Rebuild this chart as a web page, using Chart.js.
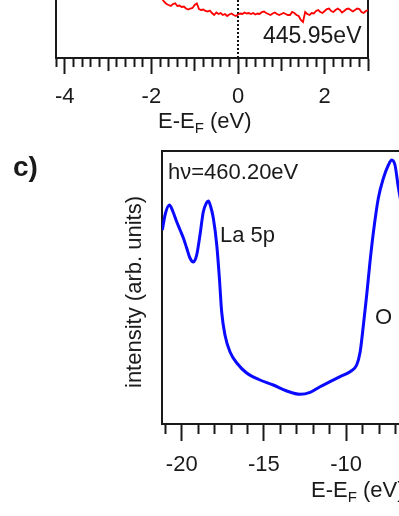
<!DOCTYPE html>
<html>
<head>
<meta charset="utf-8">
<script src="https://cdn.jsdelivr.net/npm/chart.js@4"></script>
<style>
  html, body { margin: 0; padding: 0; background: #fff; overflow: hidden; width: 399px; height: 516px; }
  body { position: relative; font-family: "Liberation Sans", Arial, sans-serif; color: #1a1a1a; }
  .txt { position: absolute; line-height: 1; white-space: nowrap; font-size: 22px; }
  .txt sub { font-size: 15px; vertical-align: -5px; line-height: 0; }
  #topChart { position: absolute; left: 0; top: 0; }
  #botChart { position: absolute; left: 0; top: 140px; }
</style>
</head>
<body>
<canvas id="topChart" width="399" height="110"></canvas>
<canvas id="botChart" width="420" height="344"></canvas>

<div class="txt" style="left:263px; top:24px; font-size:23px;">445.95eV</div>
<div class="txt" style="left:158px; top:110px;">E-E<sub>F</sub> (eV)</div>

<div class="txt" style="left:13px; top:153px; font-size:28px; font-weight:bold;">c)</div>
<div class="txt" style="left:134px; top:292px; transform: translate(-50%, -50%) rotate(-90deg);">intensity (arb. units)</div>
<div class="txt" style="left:168px; top:161px;">hν=460.20eV</div>
<div class="txt" style="left:220px; top:224px;">La 5p</div>
<div class="txt" style="left:375px; top:306px;">O</div>
<div class="txt" style="left:311px; top:479px;">E-E<sub>F</sub> (eV)</div>

<script>
// ---------------- DATA ----------------
// upper panel (hv = 445.95 eV), only its lower part is visible
const redEnergy = [
  -1.80, -1.75, -1.70, -1.65, -1.60, -1.55, -1.50, -1.45, -1.40, -1.35,
  -1.30, -1.25, -1.20, -1.15, -1.10, -1.05, -1.00, -0.95, -0.90, -0.85,
  -0.80, -0.75, -0.70, -0.65, -0.60, -0.55, -0.50, -0.45, -0.40, -0.35,
  -0.30, -0.25, -0.20, -0.15, -0.10, -0.05, 0.00, 0.05, 0.10, 0.15,
  0.20, 0.25, 0.30, 0.35, 0.40, 0.45, 0.50, 0.55, 0.60, 0.65,
  0.70, 0.75, 0.80, 0.85, 0.90, 0.95, 1.00, 1.05, 1.10, 1.15,
  1.20, 1.25, 1.30, 1.35, 1.40, 1.45, 1.50, 1.55, 1.60, 1.65,
  1.70, 1.75, 1.80, 1.85, 1.90, 1.95, 2.00, 2.05, 2.10, 2.15,
  2.20, 2.25, 2.30, 2.35, 2.40, 2.45, 2.50, 2.55, 2.60, 2.65,
  2.70, 2.75, 2.80, 2.85, 2.90, 2.95, 3.00
];
const redIntensity = [
  63, 59, 56, 54, 53, 52, 54, 54.7, 52, 52.5,
  51, 51.5, 49.5, 48.5, 49.5, 50, 53, 54.5, 49, 48,
  48.5, 47, 46.5, 47.5, 45, 43, 45.5, 44, 45, 43,
  44, 42, 43.5, 44.5, 43, 42, 43.5, 44.5, 44, 45.5,
  44.5, 45, 44, 45, 43.5, 44.5, 44, 46, 46.5, 45,
  44, 43, 44.5, 45.5, 44, 43, 44, 45, 44, 43,
  43, 46, 45, 43, 42, 38, 36, 46, 44, 43,
  45, 44.5, 47, 48, 46, 45, 47, 49, 49.5, 47,
  46, 48, 49.5, 48, 45.5, 47, 49, 49.5, 48, 46.5,
  48, 49.5, 49, 46, 45, 47, 48
];
const fermiX = [0, 0];
const fermiY = [0, 70];

// panel c (hv = 460.20 eV)
const blueEnergy = [
  -21.18, -21.0, -20.75, -20.55, -20.3, -20.1, -19.9, -19.7, -19.5, -19.29,
  -19.09, -18.89, -18.69, -18.5, -18.38, -18.25, -18.08, -17.87, -17.71, -17.57,
  -17.37, -17.06, -16.65, -16.05, -15.24, -14.43, -13.61, -12.8, -12.19, -11.59,
  -10.98, -10.37, -9.76, -9.36, -9.15, -8.95, -8.75, -8.55, -8.34, -8.04,
  -7.73, -7.43, -7.23, -7.03, -6.82, -6.7
];
const blueIntensity = [
  194, 210, 219, 213, 202, 194, 186, 176, 166, 162,
  169, 189, 212, 221, 223, 218, 206, 179, 146, 112,
  89, 72, 61, 51, 44, 39, 33, 29.7, 31.7, 37.3,
  42.3, 47.3, 52.3, 59, 72, 99, 129, 162, 192, 226,
  246, 259, 264, 259, 236, 225
];

const topTickLabels = [-4, -2, 0, 2];
const topMidTicks = [-3, -1, 1, 3];
const botTickLabels = [-20, -15, -10];

// ---------------- HELPERS ----------------
const FONT = "'Liberation Sans', Arial, sans-serif";
const INK = "#1a1a1a";

function has(list, v) {
    return list.some(t => Math.abs(t - v) < 1e-6);
}

function points(xs, ys) {
    return xs.map((x, i) => ({ x: x, y: ys[i] }));
}

function frameAxis(position, size) {
    return {
        type: "linear",
        position: position,
        display: true,
        ticks: { display: false },
        grid: { display: false, drawTicks: false },
        border: { color: INK, width: 2 },
        afterFit: s => {
            if (position === "left" || position === "right") s.width = size;
            else s.height = size;
        }
    };
}

// ---------------- TOP PANEL ----------------
const topY = frameAxis("left", 0);
topY.min = 0;
topY.max = 58;

new Chart("topChart", {
    type: "scatter",
    data: {
        datasets: [{
            data: points(redEnergy, redIntensity),
            showLine: true,
            borderColor: "#ff0000",
            borderWidth: 1.8,
            pointRadius: 0
        }, {
            data: points(fermiX, fermiY),
            showLine: true,
            borderColor: "#111",
            borderWidth: 2,
            borderDash: [2, 2],
            pointRadius: 0
        }]
    },
    options: {
        responsive: false,
        animation: false,
        events: [],
        plugins: { legend: { display: false }, tooltip: { enabled: false } },
        layout: { padding: { left: 56, right: 31, top: 0, bottom: 0 } },
        scales: {
            x: {
                type: "linear",
                min: -4.2,
                max: 3.0,
                ticks: {
                    stepSize: 0.2,
                    autoSkip: false,
                    includeBounds: false,
                    maxRotation: 0,
                    padding: 10,
                    color: INK,
                    font: { family: FONT, size: 22 },
                    callback: v => has(topTickLabels, v) ? String(Math.round(v)) : ""
                },
                grid: {
                    drawOnChartArea: false,
                    tickLength: 16,
                    tickWidth: 2,
                    tickColor: INK,
                    tickBorderDash: ctx => {
                        const v = ctx.tick ? ctx.tick.value : 0;
                        if (has(topTickLabels, v)) return [];
                        if (has(topMidTicks, v)) return [12, 100];
                        return [8, 100];
                    }
                },
                border: { color: INK, width: 2 },
                afterFit: s => { s.height = 52; }
            },
            y: topY,
            y2: frameAxis("right", 0)
        }
    }
});

// ---------------- PANEL c ----------------
const botY = frameAxis("left", 0);
botY.min = 0;
botY.max = 273;

new Chart("botChart", {
    type: "scatter",
    data: {
        datasets: [{
            data: points(blueEnergy, blueIntensity),
            showLine: true,
            borderColor: "#0a0aff",
            borderWidth: 3,
            pointRadius: 0,
            cubicInterpolationMode: "monotone"
        }]
    },
    options: {
        responsive: false,
        animation: false,
        events: [],
        plugins: { legend: { display: false }, tooltip: { enabled: false } },
        layout: { padding: { left: 162, right: 19.6, top: 11, bottom: 0 } },
        scales: {
            x: {
                type: "linear",
                min: -21.2,
                max: -6.7,
                ticks: {
                    stepSize: 1,
                    autoSkip: false,
                    includeBounds: false,
                    maxRotation: 0,
                    padding: 11,
                    color: INK,
                    font: { family: FONT, size: 22 },
                    callback: v => has(botTickLabels, v) ? String(Math.round(v)) : ""
                },
                grid: {
                    drawOnChartArea: false,
                    tickLength: 17,
                    tickWidth: 2,
                    tickColor: INK,
                    tickBorderDash: ctx => {
                        const v = ctx.tick ? ctx.tick.value : 0;
                        return Math.abs(v % 5) < 1e-6 ? [] : [9, 100];
                    }
                },
                border: { color: INK, width: 2 },
                afterFit: s => { s.height = 60; }
            },
            x2: frameAxis("top", 0),
            y: botY
        }
    }
});
</script>
</body>
</html>
